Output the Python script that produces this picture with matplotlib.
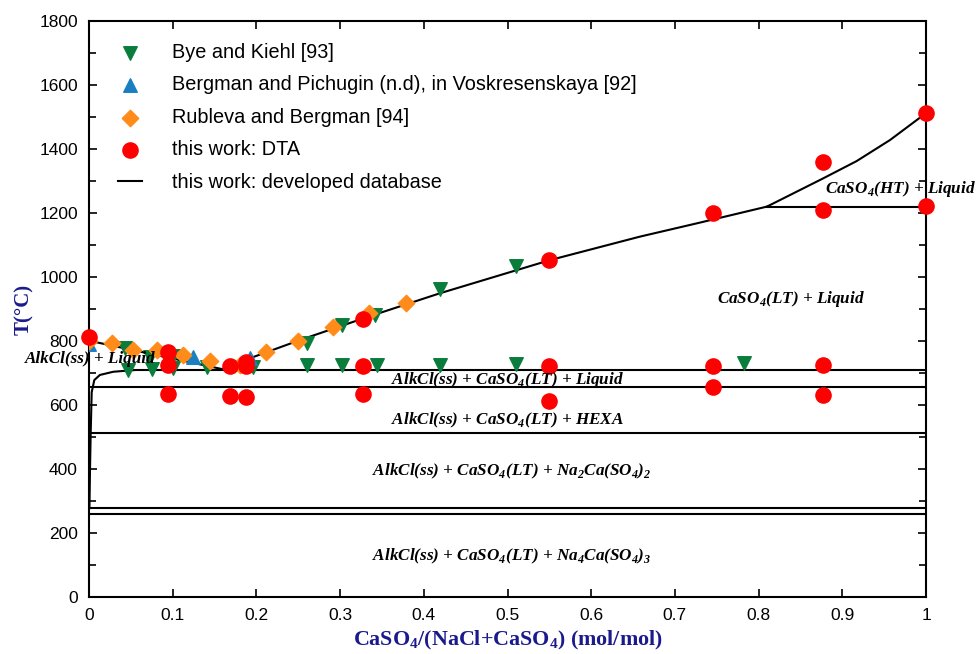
import numpy as np
import matplotlib
matplotlib.use("Agg")
import matplotlib.pyplot as plt
from matplotlib.ticker import MultipleLocator

# ---- experimental points (x = CaSO4/(NaCl+CaSO4), T in degC) ----
bye_x = [0.043, 0.073, 0.100, 0.261, 0.302, 0.342, 0.419, 0.510,
         0.047, 0.075, 0.100, 0.141, 0.196, 0.261, 0.302, 0.344, 0.419, 0.510, 0.783]
bye_T = [777, 751, 752, 793, 850, 881, 962, 1034,
         709, 714, 716, 720, 720, 725, 725, 725, 725, 728, 732]

bergman_x = [0.0, 0.124, 0.192]
bergman_T = [790, 749, 746]

rubleva_x = [0.0, 0.027, 0.053, 0.081, 0.112, 0.144, 0.180, 0.212, 0.250, 0.291, 0.334, 0.379]
rubleva_T = [800, 793, 772, 772, 756, 738, 725, 766, 801, 845, 888, 920]

dta_x = [0.0, 0.094, 0.094, 0.094, 0.168, 0.168, 0.188, 0.188, 0.188,
         0.327, 0.327, 0.327, 0.550, 0.550, 0.550, 0.746, 0.746, 0.746,
         0.877, 0.877, 0.877, 0.877, 1.0, 1.0]
dta_T = [813, 766, 725, 634, 722, 628, 735, 722, 625,
         868, 722, 634, 1053, 722, 612, 1199, 722, 657,
         1360, 1209, 725, 631, 1513, 1222]

# ---- calculated phase boundaries ----
liq_left_x = [0.0, 0.165]
liq_left_T = [801, 709]
liq_right_x = [0.165, 0.192, 0.252, 0.328, 0.419, 0.551, 0.658, 0.730, 0.810]
liq_right_T = [709, 746, 803, 871, 949, 1053, 1126, 1170, 1220]
liq_ht_x = [0.810, 0.877, 0.917, 0.957, 1.0]
liq_ht_T = [1220, 1308, 1362, 1428, 1512]
solvus_x = [0.0005, 0.0012, 0.002, 0.0032, 0.0063, 0.013, 0.029, 0.053]
solvus_T = [278, 400, 512, 640, 678, 694, 704, 709]
ht_lt_T = 1220
invariant_T = [709, 657, 512, 278, 260]

region_labels = [
    ("AlkCl(ss) + Liquid", 0.002, 745),
    ("AlkCl(ss) + CaSO$_\\mathregular{4}$(LT) + Liquid", 0.5, 677),
    ("AlkCl(ss) + CaSO$_\\mathregular{4}$(LT) + HEXA", 0.5, 552),
    ("AlkCl(ss) + CaSO$_\\mathregular{4}$(LT) + Na$_\\mathregular{2}$Ca(SO$_\\mathregular{4}$)$_\\mathregular{2}$", 0.505, 394),
    ("AlkCl(ss) + CaSO$_\\mathregular{4}$(LT) + Na$_\\mathregular{4}$Ca(SO$_\\mathregular{4}$)$_\\mathregular{3}$", 0.505, 127),
    ("CaSO$_\\mathregular{4}$(LT) + Liquid", 0.839, 932),
    ("CaSO$_\\mathregular{4}$(HT) + Liquid", 0.969, 1276),
]

fig = plt.figure(figsize=(9.76, 6.54), dpi=100)
ax = fig.add_axes([0.0912, 0.087, 0.8576, 0.881])

navy = "#1a1a8c"
lw = 1.5

ax.plot(liq_left_x, liq_left_T, color="black", lw=lw)
ax.plot(liq_right_x, liq_right_T, color="black", lw=lw)
ax.plot(liq_ht_x, liq_ht_T, color="black", lw=lw)
ax.plot(solvus_x, solvus_T, color="black", lw=lw)
ax.plot([0.81, 1.0], [ht_lt_T, ht_lt_T], color="black", lw=lw)
ax.plot([solvus_x[-1], 1.0], [invariant_T[0], invariant_T[0]], color="black", lw=lw)
for T in invariant_T[1:]:
    ax.plot([0.0, 1.0], [T, T], color="black", lw=lw)

ax.scatter(bye_x, bye_T, marker="v", s=95, color="#0a7d3c", zorder=3,
           label="Bye and Kiehl [93]")
ax.scatter(bergman_x, bergman_T, marker="^", s=95, color="#1a7fc1", zorder=3,
           label="Bergman and Pichugin (n.d), in Voskresenskaya [92]")
ax.scatter(rubleva_x, rubleva_T, marker="D", s=70, color="#ff8c1a", zorder=3,
           label="Rubleva and Bergman [94]")
ax.scatter(dta_x, dta_T, marker="o", s=120, color="#ff0000", zorder=4,
           label="this work: DTA", clip_on=False)
ax.plot([], [], color="black", lw=lw, label="this work: developed database")

for txt, x, y in region_labels:
    ax.text(x, y, txt, ha="center", va="center", fontsize=12.3,
            family="Liberation Serif", fontweight="bold", fontstyle="italic",
            zorder=5, clip_on=False)

ax.set_xlim(0, 1)
ax.set_ylim(0, 1800)
ax.yaxis.set_major_locator(MultipleLocator(200))
ax.yaxis.set_minor_locator(MultipleLocator(100))
ax.set_xticks(np.arange(0, 1.01, 0.1))
ax.set_xticklabels(["0", "0.1", "0.2", "0.3", "0.4", "0.5", "0.6", "0.7", "0.8", "0.9", "1"])
ax.tick_params(which="both", direction="in", top=True, right=True,
               labelsize=12.5, width=1.2)
ax.tick_params(which="major", length=6, pad=8)
ax.tick_params(which="minor", length=5)
for lab in ax.get_xticklabels() + ax.get_yticklabels():
    lab.set_family("Liberation Sans")
for sp in ax.spines.values():
    sp.set_linewidth(1.5)

ax.set_xlabel("CaSO$_\\mathregular{4}$/(NaCl+CaSO$_\\mathregular{4}$) (mol/mol)",
              family="Liberation Serif", fontweight="bold", fontsize=15.8,
              color=navy, labelpad=4)
ax.set_ylabel("T(°C)", family="Liberation Serif", fontweight="bold",
              fontsize=15, color=navy, labelpad=4)

leg = ax.legend(loc="upper left", bbox_to_anchor=(0.013, 0.993), frameon=False,
                prop={"family": "Liberation Sans", "size": 14.3},
                handlelength=1.2, handletextpad=1.55, labelspacing=0.68,
                scatterpoints=1)

fig.savefig("out.png", dpi=100)
